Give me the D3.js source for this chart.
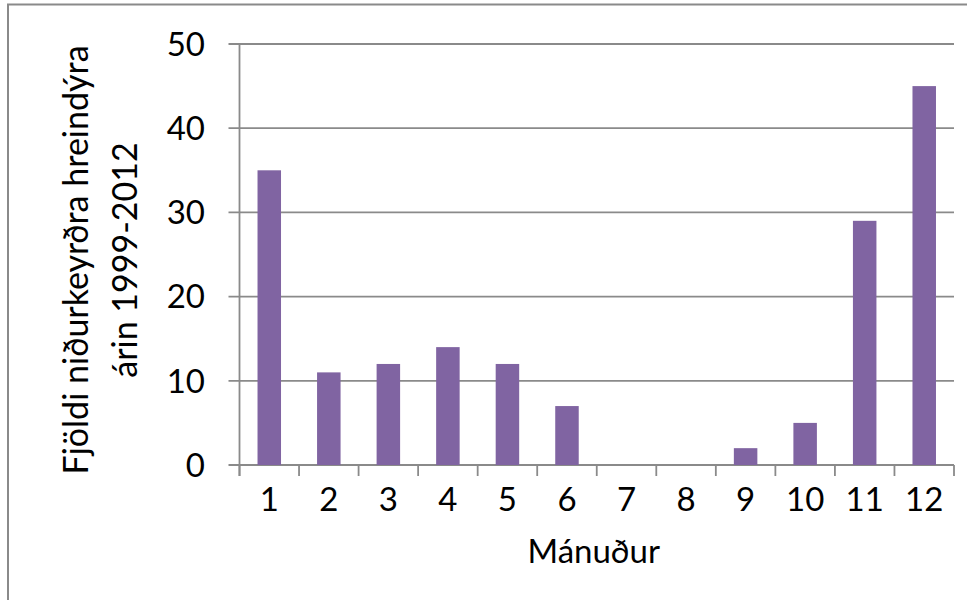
<!DOCTYPE html>
<html><head><meta charset="utf-8">
<script src="https://cdn.jsdelivr.net/npm/d3@7"></script>
<style>body{margin:0;background:#fff}svg{display:block}</style>
</head><body>
<svg id="c" width="967" height="600"></svg>
<script>
const months = ["1","2","3","4","5","6","7","8","9","10","11","12"];
const counts = [35, 11, 12, 14, 12, 7, 0, 0, 2, 5, 29, 45];
const yTicks = [0, 10, 20, 30, 40, 50];
const yTitle = ["Fjöldi niðurkeyrðra hreindýra", "árin 1999-2012"];
const xTitle = "Mánuður";

(function () {
const svg = d3.select("#c");
const font = "Lato, 'Open Sans', sans-serif";
const grey = "#8a8a8a";
const pL = 239.5, pR = 954, pT = 44, pB = 465;

svg.append("rect").attr("x", 8).attr("y", 4.5).attr("width", 1000).attr("height", 1000)
  .attr("fill", "none").attr("stroke", grey).attr("stroke-width", 2);

const xb = d3.scaleBand().domain(months).range([pL, pR]);
const y = d3.scaleLinear().domain([0, 50]).range([pB, pT]);

svg.append("g").selectAll("line").data(yTicks).join("line")
  .attr("x1", pL - 11).attr("x2", pR)
  .attr("y1", d => y(d)).attr("y2", d => y(d))
  .attr("stroke", grey).attr("stroke-width", 1.8);

svg.append("g").selectAll("text").data(yTicks).join("text")
  .attr("x", 205).attr("y", d => y(d)).attr("dy", "0.36em")
  .attr("text-anchor", "end").attr("font-family", font).attr("font-size", 33)
  .attr("fill", "#000").text(d => d);

svg.append("g").selectAll("rect").data(counts).join("rect")
  .attr("x", (d, i) => xb(months[i]) + xb.bandwidth() / 2 - 11.75)
  .attr("width", 23.5)
  .attr("y", d => y(d)).attr("height", d => pB - y(d))
  .attr("fill", "#8064a2");

svg.append("line").attr("x1", pL).attr("x2", pL).attr("y1", pT).attr("y2", pB + 11)
  .attr("stroke", grey).attr("stroke-width", 1.8);

const bounds = months.map(m => xb(m)).concat([pR]);
svg.append("g").selectAll("line").data(bounds).join("line")
  .attr("x1", d => d).attr("x2", d => d).attr("y1", pB).attr("y2", pB + 11)
  .attr("stroke", grey).attr("stroke-width", 1.8);

svg.append("g").selectAll("text").data(months).join("text")
  .attr("x", d => xb(d) + xb.bandwidth() / 2).attr("y", 511)
  .attr("text-anchor", "middle").attr("font-family", font).attr("font-size", 33)
  .attr("fill", "#000").text(d => d);

svg.append("text").attr("x", (pL + pR) / 2 - 3).attr("y", 563)
  .attr("text-anchor", "middle").attr("font-family", font).attr("font-size", 33)
  .attr("fill", "#000").text(xTitle);

const yt = svg.append("text").attr("transform", "translate(0,260) rotate(-90)")
  .attr("text-anchor", "middle").attr("font-family", font).attr("font-size", 34).attr("fill", "#000");
yt.selectAll("tspan").data(yTitle).join("tspan")
  .attr("x", 0).attr("y", (d, i) => 88 + i * 49).text(d => d);
})();
</script>
</body></html>
